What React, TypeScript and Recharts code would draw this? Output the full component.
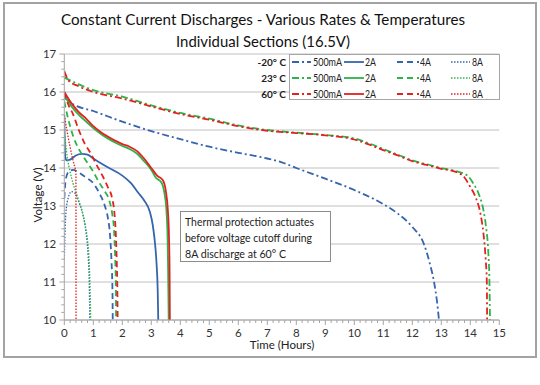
import React from 'react';
import { LineChart, Line, XAxis, YAxis, ReferenceLine } from 'recharts';

// time (hours) / voltage pairs
const blue500 = [
  [0, 15.85], [0.3, 15.68], [1, 15.5], [2, 15.22], [3, 14.97], [4, 14.76], [5, 14.56], [6, 14.4],
  [7, 14.25], [7.5, 14.15], [8, 14.0], [9, 13.72], [10, 13.42], [11, 13.05], [11.5, 12.8], [12, 12.45],
  [12.4, 12.0], [12.6, 11.5], [12.75, 11.0], [12.85, 10.5], [12.92, 10.0],
];
const green500 = [
  [0, 16.38], [0.5, 16.2], [1, 16.05], [2, 15.88], [3, 15.65], [4, 15.45], [5, 15.3], [6, 15.12],
  [7, 15.0], [8, 14.93], [9, 14.87], [10, 14.78], [10.5, 14.65], [11, 14.5], [11.5, 14.35], [12, 14.2],
  [12.5, 14.1], [13, 14.0], [13.5, 13.92], [13.9, 13.8], [14.1, 13.6], [14.3, 13.3], [14.45, 12.9],
  [14.55, 12.4], [14.62, 11.8], [14.66, 11.0], [14.68, 10.0],
];
const red500 = [
  [0, 16.55], [0.15, 16.3], [0.5, 16.15], [1, 16.0], [2, 15.83], [3, 15.62], [4, 15.42], [5, 15.27],
  [6, 15.1], [7, 14.98], [8, 14.92], [9, 14.86], [10, 14.75], [10.5, 14.62], [11, 14.47], [11.5, 14.33],
  [12, 14.18], [12.5, 14.08], [13, 13.98], [13.5, 13.9], [13.8, 13.75], [14.0, 13.5], [14.2, 13.2],
  [14.35, 12.8], [14.45, 12.3], [14.53, 11.6], [14.57, 11.0], [14.58, 10.0],
];
const blue2A = [
  [0, 15.4], [0.03, 14.3], [0.08, 14.2], [0.2, 14.22], [0.4, 14.33], [0.6, 14.37], [0.8, 14.35],
  [1.0, 14.25], [1.5, 14.02], [2.0, 13.8], [2.3, 13.6], [2.55, 13.35], [2.75, 13.15], [2.95, 12.85],
  [3.05, 12.5], [3.13, 12.0], [3.18, 11.5], [3.22, 10.8], [3.24, 10.0],
];
const green2A = [
  [0, 15.92], [0.25, 15.62], [0.5, 15.4], [0.75, 15.22], [1.0, 15.05], [1.25, 14.9], [1.5, 14.78],
  [1.75, 14.67], [2.0, 14.58], [2.25, 14.5], [2.5, 14.38], [2.75, 14.18], [3.0, 13.95], [3.15, 13.75],
  [3.35, 13.62], [3.45, 13.35], [3.52, 12.9], [3.56, 12.2], [3.58, 11.3], [3.6, 10.0],
];
const red2A = [
  [0, 16.0], [0.25, 15.7], [0.5, 15.47], [0.75, 15.3], [1.0, 15.1], [1.25, 14.95], [1.5, 14.83],
  [1.75, 14.72], [2.0, 14.63], [2.25, 14.56], [2.5, 14.45], [2.75, 14.25], [3.0, 14.0], [3.2, 13.8],
  [3.4, 13.68], [3.5, 13.4], [3.57, 12.9], [3.61, 12.2], [3.63, 11.3], [3.64, 10.0],
];
const blue4A = [
  [0, 13.2], [0.05, 13.7], [0.15, 13.9], [0.3, 13.95], [0.5, 13.88], [0.75, 13.75], [1.0, 13.6],
  [1.2, 13.35], [1.4, 13.0], [1.5, 12.7], [1.58, 12.2], [1.63, 11.5], [1.66, 10.8], [1.67, 10.0],
];
const green4A = [
  [0, 15.75], [0.1, 15.4], [0.3, 14.85], [0.5, 14.5], [0.7, 14.25], [1.0, 13.9], [1.2, 13.62],
  [1.4, 13.38], [1.55, 13.15], [1.65, 12.8], [1.72, 12.3], [1.76, 11.5], [1.78, 10.8], [1.785, 10.0],
];
const red4A = [
  [0, 16.0], [0.15, 15.65], [0.3, 15.42], [0.5, 15.0], [0.7, 14.65], [0.9, 14.4], [1.1, 14.1],
  [1.3, 13.82], [1.5, 13.5], [1.65, 13.2], [1.73, 12.8], [1.78, 12.2], [1.81, 11.5], [1.83, 10.8],
  [1.84, 10.0],
];
const blue8A = [
  [0, 11.6], [0.04, 12.6], [0.1, 13.1], [0.25, 13.38], [0.35, 13.35], [0.5, 13.1], [0.65, 12.75],
  [0.75, 12.3], [0.82, 11.7], [0.86, 11.0], [0.88, 10.0],
];
const green8A = [
  [0, 15.0], [0.1, 14.3], [0.2, 13.9], [0.3, 13.6], [0.45, 13.25], [0.6, 12.9], [0.72, 12.5],
  [0.8, 12.1], [0.86, 11.5], [0.89, 10.8], [0.91, 10.0],
];
const red8A = [
  [0, 15.4], [0.1, 14.95], [0.2, 14.55], [0.3, 14.2], [0.4, 13.85], [0.405, 10.0],
];

const xMajor = [0, 1, 2, 3, 4, 5, 6, 7, 8, 9, 10, 11, 12, 13, 14, 15];
const yMajor = [10, 11, 12, 13, 14, 15, 16, 17];
const temps = ['-20° C', '23° C', '60° C'];
const rates = ['500mA', '2A', '4A', '8A'];

const BLUE = '#3565ad';
const GREEN = '#2db34a';
const RED = '#e3211f';
const FONT = 'Lato, "Open Sans", sans-serif';
const DASH = { '500mA': '7 3 2 3', '2A': undefined, '4A': '6 4', '8A': '1.5 1.5' };

const toPts = (arr: number[][]) => arr.map(([t, v]) => ({ t, v }));

const series = [
  { name: '-20 500mA', data: blue500, color: BLUE, rate: '500mA' },
  { name: '23 500mA', data: green500, color: GREEN, rate: '500mA' },
  { name: '60 500mA', data: red500, color: RED, rate: '500mA' },
  { name: '-20 2A', data: blue2A, color: BLUE, rate: '2A' },
  { name: '23 2A', data: green2A, color: GREEN, rate: '2A' },
  { name: '60 2A', data: red2A, color: RED, rate: '2A' },
  { name: '-20 4A', data: blue4A, color: BLUE, rate: '4A' },
  { name: '23 4A', data: green4A, color: GREEN, rate: '4A' },
  { name: '60 4A', data: red4A, color: RED, rate: '4A' },
  { name: '-20 8A', data: blue8A, color: BLUE, rate: '8A' },
  { name: '23 8A', data: green8A, color: GREEN, rate: '8A' },
  { name: '60 8A', data: red8A, color: RED, rate: '8A' },
];

// minor ticks every 0.2 between the labelled ones
const withMinor = (major: number[]) => {
  const out: number[] = [];
  major.forEach((m, i) => {
    out.push(m);
    if (i < major.length - 1) for (let k = 1; k < 5; k++) out.push(+(m + k * 0.2).toFixed(1));
  });
  return out;
};

const isMajor = (v: number) => Math.abs(v - Math.round(v)) < 1e-6;

function XTick({ x, y, payload }: any) {
  const major = isMajor(payload.value);
  return (
    <g>
      <line x1={x} x2={x} y1={y} y2={y + (major ? 5 : 3)} stroke="#a6a6a6" />
      {major && (
        <text x={x} y={y + 17} textAnchor="middle" fontSize={11.5} fill="#333" fontFamily={FONT}>
          {payload.value}
        </text>
      )}
    </g>
  );
}

function YTick({ x, y, payload }: any) {
  const major = isMajor(payload.value);
  return (
    <g>
      <line x1={x - (major ? 5 : 3)} x2={x} y1={y} y2={y} stroke="#a6a6a6" />
      {major && (
        <text x={x - 8} y={y + 4} textAnchor="end" fontSize={11.5} fill="#333" fontFamily={FONT}>
          {payload.value}
        </text>
      )}
    </g>
  );
}

const legendColors = [BLUE, GREEN, RED];
const rowY = [62, 78, 94];
const legendCols = [
  { x1: 292, x2: 311, tx: 313, w: 29 },
  { x1: 344, x2: 364, tx: 365, w: 11 },
  { x1: 397, x2: 419, tx: 420, w: 11 },
  { x1: 451, x2: 470, tx: 472, w: 11 },
];

const note = ['Thermal protection actuates', 'before voltage cutoff during', '8A discharge at 60° C'];
const noteW = [129, 127, 101];

export default function App() {
  return (
    <div style={{ position: 'fixed', left: 0, top: 0, width: 540, height: 385, background: '#fff', fontFamily: FONT }}>
      <div style={{ position: 'absolute', left: 0, top: 0 }}>
        <LineChart width={540} height={360} margin={{ top: 54, right: 40.7, left: 30.3, bottom: 0 }}>
          {yMajor.map(v => (
            <ReferenceLine key={v} y={v} stroke="#c0c0c0" strokeWidth={1} ifOverflow="extendDomain" />
          ))}
          <XAxis
            type="number"
            dataKey="t"
            domain={[0, 15]}
            ticks={withMinor(xMajor)}
            interval={0}
            allowDataOverflow
            height={40}
            tickSize={0}
            tickMargin={0}
            tickLine={false}
            axisLine={{ stroke: '#a6a6a6' }}
            tick={<XTick />}
          />
          <YAxis
            type="number"
            dataKey="v"
            domain={[10, 17]}
            ticks={withMinor(yMajor)}
            interval={0}
            allowDataOverflow
            width={34}
            tickSize={0}
            tickMargin={0}
            tickLine={false}
            axisLine={{ stroke: '#a6a6a6' }}
            tick={<YTick />}
          />
          {series.map(s => (
            <Line
              key={s.name}
              data={toPts(s.data)}
              dataKey="v"
              type="monotone"
              stroke={s.color}
              strokeWidth={s.rate === '8A' ? 1.3 : 1.8}
              strokeDasharray={DASH[s.rate as keyof typeof DASH]}
              dot={false}
              isAnimationActive={false}
            />
          ))}
        </LineChart>
      </div>
      <svg width={540} height={385} style={{ position: 'absolute', left: 0, top: 0, pointerEvents: 'none' }}>
        {/* outer frame */}
        <rect x={4} y={3} width={532} height={354} fill="none" stroke="#a3a3a3" strokeWidth={2} />

        <text x={263} y={25} textAnchor="middle" fontSize={16} textLength={404} lengthAdjust="spacingAndGlyphs" fill="#111" fontFamily={FONT}>
          Constant Current Discharges - Various Rates &amp; Temperatures
        </text>
        <text x={263} y={47} textAnchor="middle" fontSize={16} textLength={174} lengthAdjust="spacingAndGlyphs" fill="#111" fontFamily={FONT}>
          Individual Sections (16.5V)
        </text>
        <text x={282} y={349} textAnchor="middle" fontSize={11.5} fill="#222" fontFamily={FONT}>
          Time (Hours)
        </text>
        <text
          x={0} y={0} textAnchor="middle" fontSize={11.5} fill="#222" fontFamily={FONT}
          transform="translate(42 195) rotate(-90)"
        >
          Voltage (V)
        </text>

        {/* legend */}
        <rect x={289.5} y={54.5} width={210} height={45} fill="#fff" stroke="#a6a6a6" />
        {temps.map((t, r) => (
          <text key={t} x={286} y={rowY[r] + 3.5} textAnchor="end" fontSize={10} fontWeight="bold" fill="#222" fontFamily={FONT}>
            {t}
          </text>
        ))}
        {temps.map((t, r) =>
          rates.map((rate, c) => (
            <g key={t + rate}>
              <line
                x1={legendCols[c].x1} x2={legendCols[c].x2} y1={rowY[r]} y2={rowY[r]}
                stroke={legendColors[r]} strokeWidth={rate === '8A' ? 1.3 : 1.8}
                strokeDasharray={DASH[rate as keyof typeof DASH]}
              />
              <text
                x={legendCols[c].tx} y={rowY[r] + 4} fontSize={10.5} fill="#222" fontFamily={FONT}
                textLength={legendCols[c].w} lengthAdjust="spacingAndGlyphs"
              >
                {rate}
              </text>
            </g>
          )),
        )}

        {/* annotation */}
        <rect x={180.5} y={211.5} width={150} height={50} fill="#fff" stroke="#8c8c8c" />
        {note.map((line, i) => (
          <text
            key={line} x={185} y={226 + i * 16} fontSize={11.5} fill="#222" fontFamily={FONT}
            textLength={noteW[i]} lengthAdjust="spacingAndGlyphs"
          >
            {line}
          </text>
        ))}
      </svg>
    </div>
  );
}
